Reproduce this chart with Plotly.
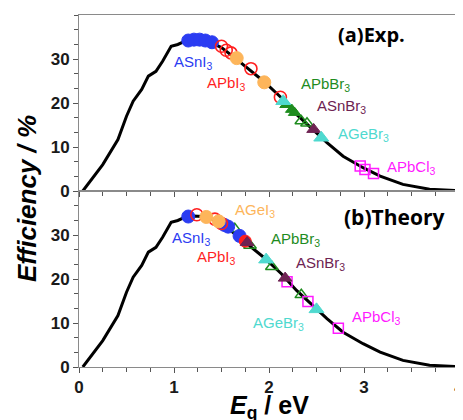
import plotly.graph_objects as go
from plotly.subplots import make_subplots

# Shockley-Queisser-like limit curve (same in both panels)
curve_eg = [0.04, 0.25, 0.41, 0.50, 0.57, 0.66, 0.73, 0.81, 0.88, 0.97, 1.04, 1.11, 1.20, 1.30, 1.40,
            1.50, 1.66, 1.80, 1.94, 2.13, 2.29, 2.46, 2.61, 2.78, 2.99, 3.17, 3.41, 3.69, 4.00]
curve_eff = [0.0, 6.0, 11.7, 17.0, 20.4, 23.1, 26.1, 27.2, 29.5, 32.9, 33.3, 34.0, 34.3, 34.2, 33.6,
             32.6, 29.9, 27.4, 25.0, 21.2, 17.4, 14.0, 11.0, 7.9, 5.3, 3.4, 1.5, 0.4, 0.1]

# (a) Experimental band gaps
exp_asni3_x = [1.15, 1.21, 1.27, 1.33, 1.40]
exp_asni3_y = [34.2, 34.4, 34.4, 34.2, 33.8]
exp_apbi3_x = [1.50, 1.55, 1.60, 1.81, 2.12]
exp_apbi3_y = [32.9, 32.0, 31.4, 27.8, 21.3]
exp_ageI3_x = [1.66, 1.95]
exp_ageI3_y = [30.2, 24.7]
exp_apbbr3_fill_x = [2.18, 2.24, 2.27]
exp_apbbr3_fill_y = [19.6, 18.5, 17.8]
exp_apbbr3_open_x = [2.34, 2.40]
exp_apbbr3_open_y = [15.9, 15.4]
exp_asnbr3_x = [2.47]
exp_asnbr3_y = [14.0]
exp_agebr3_x = [2.15, 2.55]
exp_agebr3_y = [20.4, 12.1]
exp_apbcl3_x = [2.96, 3.01, 3.10]
exp_apbcl3_y = [5.7, 4.9, 4.0]

# (b) Theoretical band gaps
th_asni3_x = [1.15, 1.53, 1.57, 1.69]
th_asni3_y = [34.2, 32.3, 31.9, 29.8]
th_apbi3_open_x = [1.24, 1.43, 1.50]
th_apbi3_open_y = [34.6, 33.6, 32.6]
th_apbi3_fill_x = [1.75]
th_apbi3_fill_y = [28.6]
th_ageI3_x = [1.34, 1.47]
th_ageI3_y = [34.1, 33.1]
th_apbbr3_x = [1.64, 1.80, 2.03, 2.34]
th_apbbr3_y = [31.4, 27.6, 22.8, 16.4]
th_asnbr3_x = [1.77, 2.17]
th_asnbr3_y = [28.3, 20.2]
th_agebr3_x = [1.97, 2.50]
th_agebr3_y = [24.4, 13.1]
th_apbcl3_x = [2.19, 2.41, 2.73]
th_apbcl3_y = [19.4, 14.9, 8.8]

y_ticks = [0, 10, 20, 30]
x_ticks = [0, 1, 2, 3, 4]

BLUE = "#2b3cf2"
RED = "#ff1f1f"
ORANGE = "#fdb55a"
GREEN = "#1e8c1e"
PURPLE = "#6e2352"
CYAN = "#4fd9cf"
MAGENTA = "#ff1aff"

fig = make_subplots(rows=2, cols=1, shared_xaxes=True, vertical_spacing=0)


def add(x, y, row, symbol, color, size, fill=True, lw=1.0):
    if fill:
        marker = dict(symbol=symbol, size=size, color=color,
                      line=dict(color=color, width=lw))
    else:
        marker = dict(symbol=symbol + "-open", size=size, color=color,
                      line=dict(color=color, width=lw))
    fig.add_trace(go.Scatter(x=x, y=y, mode="markers", marker=marker,
                             showlegend=False, hoverinfo="skip"), row=row, col=1)


for r in (1, 2):
    fig.add_trace(go.Scatter(x=curve_eg, y=curve_eff, mode="lines",
                             line=dict(color="black", width=3, shape="linear"),
                             showlegend=False, hoverinfo="skip"), row=r, col=1)

# panel a
add(exp_apbbr3_open_x, exp_apbbr3_open_y, 1, "triangle-up", GREEN, 11, fill=False, lw=1.5)
add(exp_apbcl3_x, exp_apbcl3_y, 1, "square", MAGENTA, 10, fill=False, lw=1.5)
add(exp_asni3_x, exp_asni3_y, 1, "circle", BLUE, 13)
add(exp_apbi3_x, exp_apbi3_y, 1, "circle", RED, 12, fill=False, lw=1.6)
add(exp_ageI3_x, exp_ageI3_y, 1, "circle", ORANGE, 13)
add(exp_apbbr3_fill_x, exp_apbbr3_fill_y, 1, "triangle-up", GREEN, 11)
add(exp_asnbr3_x, exp_asnbr3_y, 1, "triangle-up", PURPLE, 12)
add(exp_agebr3_x, exp_agebr3_y, 1, "triangle-up", CYAN, 13)

# panel b
add(th_apbbr3_x, th_apbbr3_y, 2, "triangle-up", GREEN, 11, fill=False, lw=1.5)
add(th_apbcl3_x, th_apbcl3_y, 2, "square", MAGENTA, 10, fill=False, lw=1.5)
add(th_asni3_x, th_asni3_y, 2, "circle", BLUE, 13)
add(th_apbi3_open_x, th_apbi3_open_y, 2, "circle", RED, 12, fill=False, lw=1.6)
add(th_apbi3_fill_x, th_apbi3_fill_y, 2, "circle", RED, 12)
add(th_ageI3_x, th_ageI3_y, 2, "circle", ORANGE, 13)
add(th_asnbr3_x, th_asnbr3_y, 2, "triangle-up", PURPLE, 12)
add(th_agebr3_x, th_agebr3_y, 2, "triangle-up", CYAN, 13)

LABFONT = "Liberation Sans, Arial, sans-serif"


def lab(text, x, y, color, yref, size=15):
    fig.add_annotation(text=text, x=x, y=y, xref="x", yref=yref, showarrow=False,
                       font=dict(family=LABFONT, size=size, color=color))


# panel a labels
lab("ASnI<sub>3</sub>", 1.20, 29.2, BLUE, "y")
lab("APbI<sub>3</sub>", 1.55, 24.4, RED, "y")
lab("APbBr<sub>3</sub>", 2.59, 24.2, GREEN, "y")
lab("ASnBr<sub>3</sub>", 2.76, 19.2, PURPLE, "y")
lab("AGeBr<sub>3</sub>", 2.99, 12.8, CYAN, "y")
lab("APbCl<sub>3</sub>", 3.50, 5.4, MAGENTA, "y")
fig.add_annotation(text="<b>(a)Exp.</b>", x=3.08, y=35.5, xref="x", yref="y", showarrow=False,
                   font=dict(family="Open Sans, sans-serif", size=20, color="black"))

# panel b labels
lab("AGeI<sub>3</sub>", 1.85, 35.6, ORANGE, "y2")
lab("ASnI<sub>3</sub>", 1.18, 29.2, BLUE, "y2")
lab("APbI<sub>3</sub>", 1.45, 24.8, RED, "y2")
lab("APbBr<sub>3</sub>", 2.28, 29.0, GREEN, "y2")
lab("ASnBr<sub>3</sub>", 2.54, 23.5, PURPLE, "y2")
lab("AGeBr<sub>3</sub>", 2.10, 9.8, CYAN, "y2")
lab("APbCl<sub>3</sub>", 3.13, 11.2, MAGENTA, "y2")
fig.add_annotation(text="<b>(b)Theory</b>", x=3.32, y=34.0, xref="x", yref="y2", showarrow=False,
                   font=dict(family="Open Sans, sans-serif", size=21, color="black"))

# axis titles
fig.add_annotation(text="<b><i>Efficiency / %</i></b>", x=-0.137, y=0.48, xref="paper", yref="paper",
                   xanchor="center", yanchor="middle", textangle=-90, showarrow=False,
                   font=dict(family="Liberation Sans, Arial, sans-serif", size=26, color="black"))
fig.add_annotation(text="<b><i>E</i><sub>g</sub> / eV</b>", x=0.5, y=-0.113, xref="paper", yref="paper",
                   xanchor="center", yanchor="middle", showarrow=False,
                   font=dict(family="Liberation Sans, Arial, sans-serif", size=25, color="black"))

AX = dict(showline=True, linecolor="#8a8a8a", linewidth=1, mirror=True,
          ticks="outside", ticklen=5, tickwidth=1, tickcolor="#555555",
          showgrid=False, zeroline=False, automargin=False,
          tickfont=dict(family="Liberation Sans, Arial, sans-serif", size=17, color="#1a1a1a", weight="bold"))

minor_y = [10 / 3 * i for i in range(0, 13)]
minor_x = [0.25 * i for i in range(0, 17)]

fig.update_xaxes(range=[0, 4], tickmode="array", tickvals=x_ticks,
                 minor=dict(tickmode="array", tickvals=minor_x, ticks="outside", ticklen=4, tickcolor="#555555"),
                 **AX)
fig.update_xaxes(showticklabels=False, row=1, col=1)
fig.update_yaxes(range=[0, 40], tickmode="array", tickvals=y_ticks,
                 minor=dict(tickmode="array", tickvals=minor_y, ticks="outside", ticklen=4, tickcolor="#555555"),
                 **AX)

# page body has an 8px default margin, so margins are offset accordingly
fig.update_layout(width=463, height=420, margin=dict(l=71, r=12, t=7, b=61, autoexpand=False),
                  plot_bgcolor="white", paper_bgcolor="white", showlegend=False)

fig.write_html("out.html")
